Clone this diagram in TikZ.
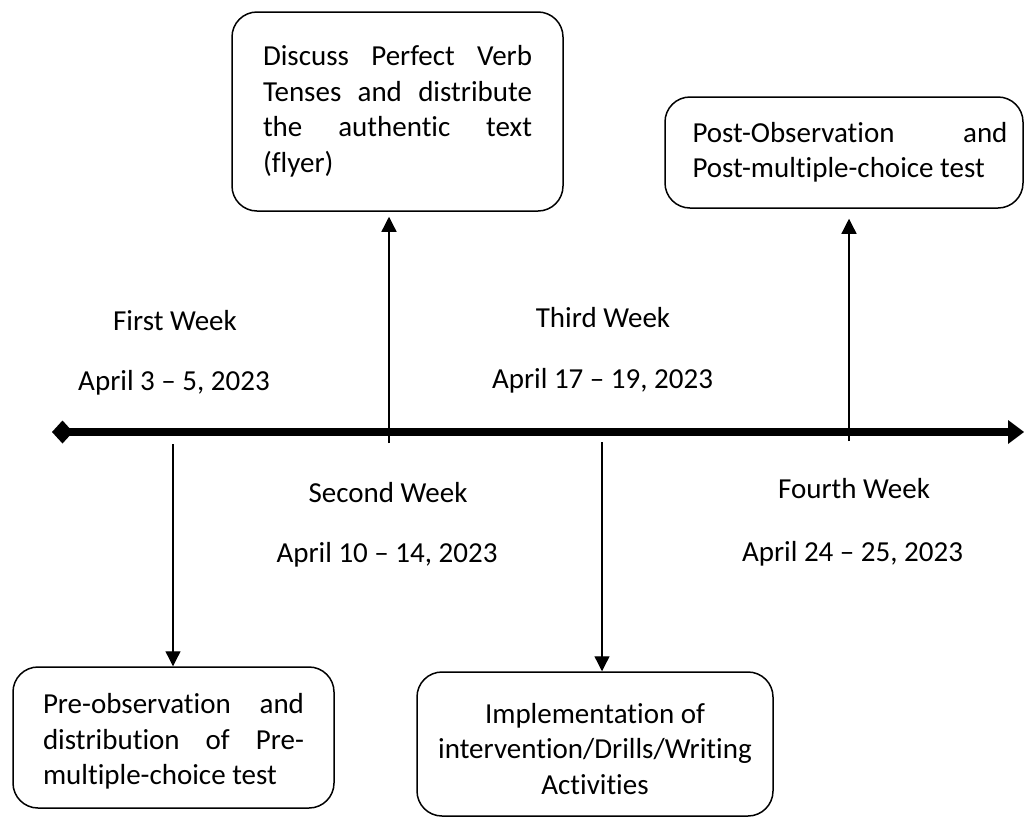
\documentclass[tikz,border=0pt]{standalone}
\usepackage{fontspec}
\setmainfont{Carlito}[Ligatures={TeX,NoCommon}]
\usetikzlibrary{arrows.meta}
\begin{document}
\begin{tikzpicture}[x=1pt,y=-1pt,
  box/.style={draw, line width=1.5pt, rounded corners=25pt, inner sep=0pt,
    font=\fontsize{29}{35.5}\selectfont},
  lbl/.style={font=\fontsize{29}{35.5}\selectfont, inner sep=0pt, anchor=base},
  conn/.style={line width=1.3pt, -{Triangle[length=15pt,width=15pt]}},
  axis/.style={line width=8pt}]
\useasboundingbox (0,0) rectangle (1024,817);

% timeline
\coordinate (tl0) at (62.5,432);
\coordinate (tl1) at (1010,432);
\draw[axis] (tl0) -- (tl1);
\fill (52,432) -- (62.5,420.5) -- (73,432) -- (62.5,443.5) -- cycle;
\fill (1008,420) -- (1024,432) -- (1008,444) -- cycle;

% boxes
\node[box, minimum width=331pt, minimum height=199pt] (b1) at (397.5,111.5)
  {\parbox[c]{269pt}{\makebox[269pt][s]{Discuss Perfect Verb}\\
   \makebox[269pt][s]{Tenses and distribute}\\
   \makebox[269pt][s]{the authentic text}\\
   (flyer)}};
\node[box, minimum width=358pt, minimum height=111pt] (b2) at (844,152.5)
  {\hspace*{12pt}\parbox[c]{315pt}{\makebox[315pt][s]{Post-Observation and}\\
   Post-multiple-choice test}};
\node[box, minimum width=321pt, minimum height=141pt] (b3) at (173.5,737.5)
  {\parbox[c]{261pt}{\vspace*{8pt}\makebox[261pt][s]{Pre-observation and}\\
   \makebox[261pt][s]{distribution of Pre-}\\
   multiple-choice test}};
\node[box, minimum width=356pt, minimum height=144pt] (b4) at (595,744)
  {\parbox[c]{340pt}{\centering\vspace*{10pt}Implementation of\\ intervention/Drills/Writing\\ Activities}};

% week labels
\node[lbl] (w1) at (175,330) {First Week};
\node[lbl] (d1) at (174,390) {April 3 – 5, 2023};
\node[lbl] (w2) at (388,502) {Second Week};
\node[lbl] (d2) at (387,562) {April 10 – 14, 2023};
\node[lbl] (w3) at (603,327) {Third Week};
\node[lbl] (d3) at (602.5,388) {April 17 – 19, 2023};
\node[lbl] (w4) at (854,498) {Fourth Week};
\node[lbl] (d4) at (852.5,561) {April 24 – 25, 2023};

% connectors
\coordinate (s1) at (173,444);
\coordinate (s2) at (389,443);
\coordinate (s3) at (602,442);
\coordinate (s4) at (849,441);
\draw[conn] (s1) -- (s1 |- b3.north);
\draw[conn, shorten >=5pt] (s2) -- (s2 |- b1.south);
\draw[conn] (s3) -- (s3 |- b4.north);
\draw[conn, shorten >=10pt] (s4) -- (s4 |- b2.south);
\end{tikzpicture}
\end{document}
